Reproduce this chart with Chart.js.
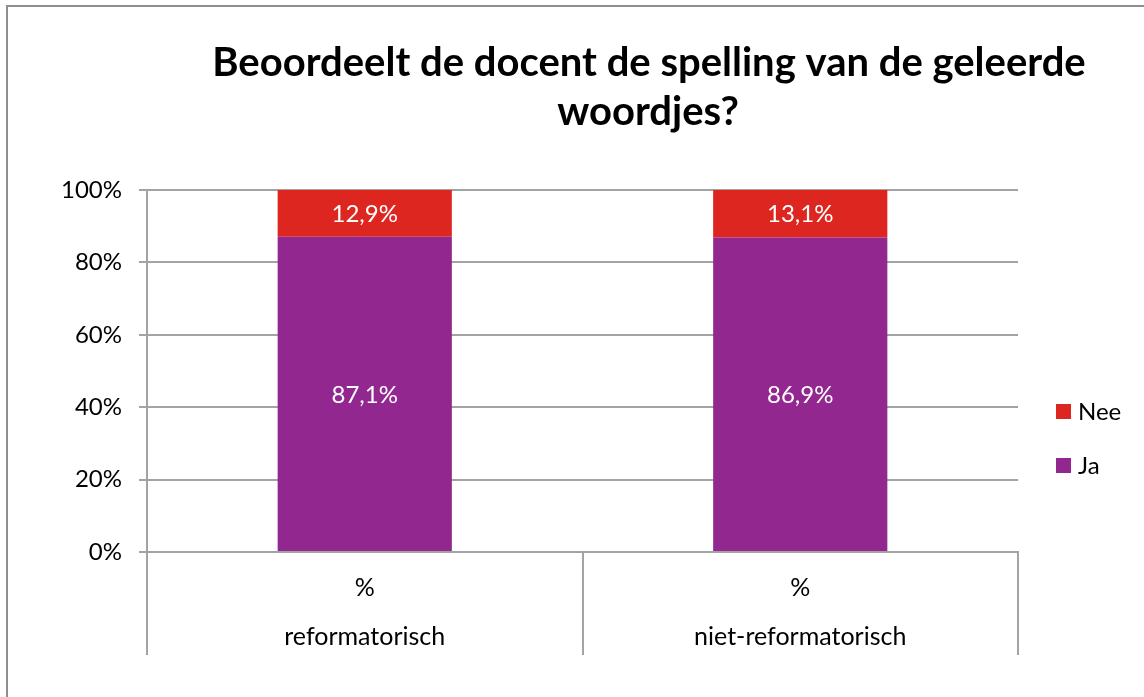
<!DOCTYPE html>
<html><head><meta charset="utf-8">
<script src="https://cdn.jsdelivr.net/npm/chart.js@4"></script>
<style>
html,body{margin:0;padding:0;background:#fff;overflow:hidden}
#wrap{position:relative;width:1144px;height:697px;overflow:hidden}
#frame{position:absolute;left:6px;top:5px;width:1300px;height:900px;border-left:2px solid #8e8e8e;border-top:2px solid #8e8e8e;pointer-events:none}
canvas{position:absolute;left:0;top:0}
</style></head><body>
<div id="wrap"><canvas id="c" width="1144" height="697"></canvas><div id="frame"></div></div>
<script>
// ---- data ----
const categories = [["%", "reformatorisch"], ["%", "niet-reformatorisch"]];
const jaValues = [87.1, 86.9];
const neeValues = [12.9, 13.1];
const seriesNames = ["Ja", "Nee"];
const yTickValues = [0, 20, 40, 60, 80, 100];
const titleLines = ["Beoordeelt de docent de spelling van de geleerde", "woordjes?"];

const FONT = "Lato, 'Open Sans', sans-serif";
const PURPLE = "#92278f";
const RED = "#dd2620";
const GRID = "#a3a3a3";

const fmt = v => v.toFixed(1).replace(".", ",") + "%";

const titlePlugin = {
  id: "customTitle",
  afterDraw(chart) {
    const ctx = chart.ctx;
    ctx.save();
    ctx.fillStyle = "#000";
    ctx.font = "bold 40px " + FONT;
    ctx.textAlign = "center";
    ctx.textBaseline = "alphabetic";
    ctx.fillText(titleLines[0], 649, 76);
    ctx.fillText(titleLines[1], 648, 125);
    ctx.restore();
  }
};

const valueLabels = {
  id: "valueLabels",
  afterDatasetsDraw(chart) {
    const ctx = chart.ctx;
    ctx.save();
    ctx.fillStyle = "#fff";
    ctx.font = "24px " + FONT;
    ctx.textAlign = "center";
    ctx.textBaseline = "middle";
    chart.data.datasets.forEach((ds, di) => {
      const meta = chart.getDatasetMeta(di);
      meta.data.forEach((el, i) => {
        ctx.fillText(fmt(ds.data[i]), el.x, (el.y + el.base) / 2 + 1);
      });
    });
    ctx.restore();
  }
};

const legendPlugin = {
  id: "customLegend",
  afterDraw(chart) {
    const ctx = chart.ctx;
    const items = chart.data.datasets.slice().reverse();
    ctx.save();
    ctx.font = "24px " + FONT;
    ctx.textBaseline = "middle";
    ctx.textAlign = "left";
    items.forEach((ds, k) => {
      const top = 404 + k * 54;
      ctx.fillStyle = ds.backgroundColor;
      ctx.fillRect(1056, top, 15, 15);
      ctx.fillStyle = "#000";
      ctx.fillText(ds.label, 1078, top + 8);
    });
    ctx.restore();
  }
};

new Chart(document.getElementById("c"), {
  type: "bar",
  data: {
    labels: categories,
    datasets: [
      { label: seriesNames[0], data: jaValues, backgroundColor: PURPLE },
      { label: seriesNames[1], data: neeValues, backgroundColor: RED }
    ]
  },
  options: {
    responsive: false,
    animation: false,
    devicePixelRatio: 1,
    layout: { padding: { left: 0, right: 126, top: 190, bottom: 0 } },
    datasets: { bar: { barPercentage: 0.4, categoryPercentage: 1 } },
    plugins: { legend: { display: false }, title: { display: false }, tooltip: { enabled: false } },
    scales: {
      x: {
        stacked: true,
        afterFit: s => { s.height = 145; },
        grid: { offset: true, drawOnChartArea: false, drawTicks: true, tickLength: 103, color: GRID, lineWidth: 2 },
        border: { display: true, color: GRID, width: 2 },
        ticks: { color: "#000", padding: -91.5, font: { family: FONT, size: 25, lineHeight: "49px" }, autoSkip: false, maxRotation: 0 }
      },
      y: {
        stacked: true,
        min: 0, max: 100,
        afterFit: s => { s.width = 147; },
        afterBuildTicks: s => { s.ticks = yTickValues.map(v => ({ value: v })); },
        grid: { color: GRID, lineWidth: 2, tickLength: 8 },
        border: { display: true, color: GRID, width: 2 },
        ticks: { color: "#000", padding: 17, font: { family: FONT, size: 24 }, callback: v => v + "%" }
      }
    }
  },
  plugins: [titlePlugin, valueLabels, legendPlugin]
});
</script>
</body></html>
